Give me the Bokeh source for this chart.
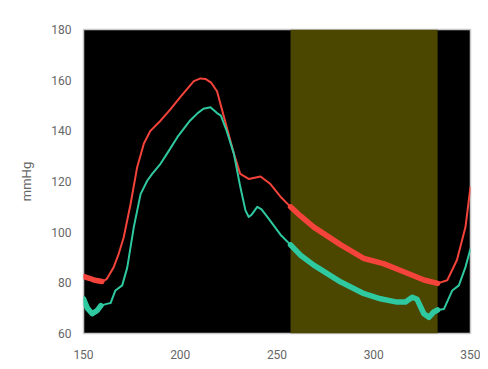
import numpy as np
from bokeh.plotting import figure
from bokeh.models import BoxAnnotation, FixedTicker, Range1d
from bokeh.embed import file_html
from bokeh.resources import INLINE

# Data
red_x = [150, 153, 156, 159.5, 162, 165.5, 168, 170.8, 174.3, 177.7, 181.2, 184.6, 189.8, 195, 200, 207,
         210.5, 213, 216, 219, 221, 224, 227.7, 231, 235.4, 241.5, 246.6, 251.8, 257, 262, 269, 283, 295,
         305, 315.5, 326, 333, 338, 343, 347.4, 350]
red_y = [82.5, 81.8, 81, 80.5, 81.5, 86, 91, 98, 111, 125.5, 135, 140, 144, 148.6, 153.3, 159.6,
         160.7, 160.5, 159, 155.6, 150, 141.5, 131, 123, 121, 122, 119, 114, 110, 106.5, 102, 95, 89.6,
         87.6, 84.4, 81.1, 79.8, 81, 89, 102, 118]

green_x = [150, 152, 154.5, 157, 159, 162, 164, 166.5, 170, 172.6, 176, 179.5, 183, 185.5, 189.8, 194,
           198.5, 205, 209, 212, 215.6, 219, 221, 224, 227.7, 231, 233.7, 235.4, 237, 239.8, 242, 245,
           251.8, 257, 262, 269, 283, 295, 303.5, 312, 316.4, 319.9, 322.4, 325.9, 328.5, 331, 333,
           336.3, 340.6, 344, 347.4, 350]
green_y = [73.7, 70, 67.8, 69, 71, 71.7, 72, 77, 79, 86, 102, 115, 120.4, 123, 127, 132,
           137.5, 144, 147, 148.7, 149.3, 147, 146, 140, 131, 118, 108.6, 106, 107, 110, 109, 106,
           99, 95, 91, 87, 80.3, 75.7, 73.7, 72.4, 72.4, 74.3, 73.5, 67.8, 66.4, 68.5, 69.3,
           69.7, 77, 79, 86.2, 93.4]

x_ticks = [150, 200, 250, 300, 350]
y_ticks = [60, 80, 100, 120, 140, 160, 180]
shade_start, shade_end = 257, 333
first_end = 159.6

RED = "#f4433a"
GREEN = "#2ec9a0"

p = figure(width=480, height=361, output_backend="svg", toolbar_location=None,
           x_range=Range1d(150, 350), y_range=Range1d(60, 180),
           min_border_left=83, min_border_top=29, min_border_right=10, min_border_bottom=28,
           background_fill_color="black")
p.outline_line_color = "#c8c8c8"
p.outline_line_width = 1.5
p.xgrid.visible = False
p.ygrid.visible = False

p.add_layout(BoxAnnotation(left=shade_start, right=shade_end, fill_color="#4b4700",
                           fill_alpha=1.0, line_color=None, level="underlay"))

def draw(xs, ys, color):
    xs = np.array(xs); ys = np.array(ys)
    p.line(xs, ys, line_color=color, line_width=2, line_join="round")
    m1 = xs <= first_end
    p.line(xs[m1], ys[m1], line_color=color, line_width=5.5, line_cap="round", line_join="round")
    m2 = (xs >= shade_start) & (xs <= shade_end)
    p.line(xs[m2], ys[m2], line_color=color, line_width=5.5, line_cap="round", line_join="round")

draw(red_x, red_y, RED)
draw(green_x, green_y, GREEN)

for ax in (p.xaxis, p.yaxis):
    ax.axis_line_color = None
    ax.major_tick_line_color = None
    ax.minor_tick_line_color = None
    ax.major_label_text_color = "#666666"
    ax.major_label_text_font = "Roboto"
    ax.major_label_text_font_size = "12px"
p.xaxis.ticker = FixedTicker(ticks=x_ticks)
p.yaxis.ticker = FixedTicker(ticks=y_ticks)
p.xaxis.major_label_standoff = 10
p.yaxis.major_label_standoff = 6
p.yaxis.axis_label = "mmHg"
p.yaxis.axis_label_text_font = "Roboto"
p.yaxis.axis_label_text_font_style = "normal"
p.yaxis.axis_label_text_font_size = "13px"
p.yaxis.axis_label_text_color = "#666666"
p.yaxis.axis_label_standoff = 14

open("out.html", "w").write(file_html(p, INLINE))
